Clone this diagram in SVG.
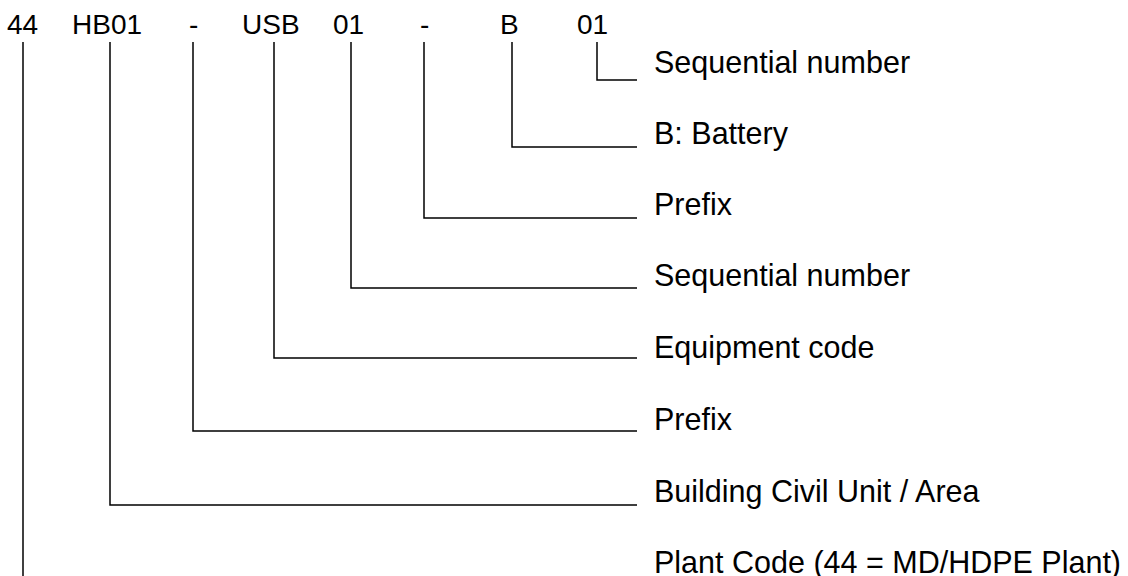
<svg xmlns="http://www.w3.org/2000/svg" width="1128" height="576" viewBox="0 0 1128 576">
<style>
text{font-family:"Liberation Sans",Arial,sans-serif;font-size:28px;fill:#000}
text.l{font-size:30.5px}
.c{fill:none;stroke:#000;stroke-width:1.5}
</style>
<rect width="1128" height="576" fill="#fff"/>
<g id="code">
<text x="7" y="34">44</text>
<text x="72" y="34">HB01</text>
<text x="189" y="34">-</text>
<text x="242" y="34">USB</text>
<text x="333" y="34">01</text>
<text x="420" y="34">-</text>
<text x="500" y="34">B</text>
<text x="577" y="34">01</text>
</g>
<g id="connectors">
<polyline class="c" points="597,42 597,80 637,80"/>
<polyline class="c" points="512,42 512,147 637,147"/>
<polyline class="c" points="424,42 424,218 637,218"/>
<polyline class="c" points="351,42 351,288 637,288"/>
<polyline class="c" points="274,42 274,358 637,358"/>
<polyline class="c" points="193,42 193,431 637,431"/>
<polyline class="c" points="110,42 110,505 637,505"/>
<polyline class="c" points="23,42 23,576"/>
</g>
<g id="label-seq2"><text class="l" x="654" y="73">Sequential number</text></g>
<g id="label-battery"><text class="l" x="654" y="144">B: Battery</text></g>
<g id="label-prefix2"><text class="l" x="654" y="215">Prefix</text></g>
<g id="label-seq1"><text class="l" x="654" y="286">Sequential number</text></g>
<g id="label-equip"><text class="l" x="654" y="358">Equipment code</text></g>
<g id="label-prefix1"><text class="l" x="654" y="430">Prefix</text></g>
<g id="label-building"><text class="l" x="654" y="502">Building Civil Unit / Area</text></g>
<g id="label-plant"><text class="l" x="654" y="573">Plant Code (44 = MD/HDPE Plant)</text></g>
</svg>
